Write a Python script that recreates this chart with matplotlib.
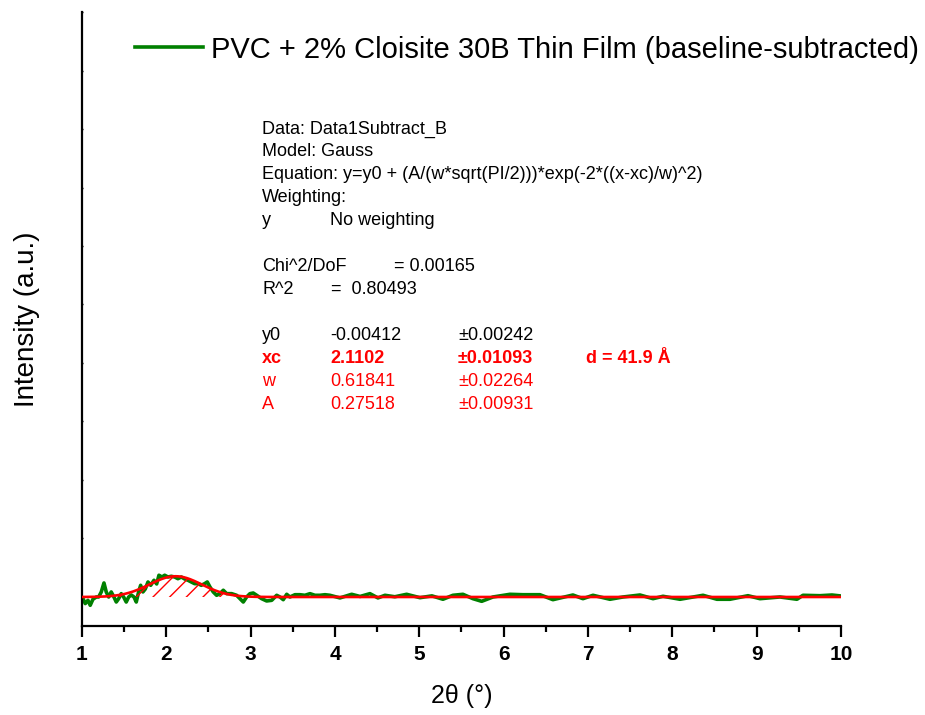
import numpy as np
import matplotlib.pyplot as plt

plt.rcParams['font.family'] = ['Liberation Sans', 'DejaVu Sans']
plt.rcParams['hatch.linewidth'] = 1.0

# measured pattern (2theta in degrees, baseline-subtracted intensity)
two_theta = [1.012, 1.039, 1.071, 1.098, 1.130, 1.170, 1.198, 1.229, 1.261, 1.288,
             1.317, 1.347, 1.379, 1.407, 1.435, 1.466, 1.494, 1.525, 1.554, 1.585,
             1.617, 1.644, 1.672, 1.696, 1.723, 1.751, 1.783, 1.815, 1.854, 1.886,
             1.913, 1.949, 1.981, 2.020, 2.059, 2.099, 2.138, 2.178, 2.218, 2.257,
             2.296, 2.336, 2.376, 2.415, 2.455, 2.486, 2.518, 2.557, 2.597, 2.636,
             2.676, 2.716, 2.775, 2.834, 2.874, 2.913, 2.953, 2.992, 3.031, 3.072,
             3.131, 3.190, 3.250, 3.309, 3.348, 3.387, 3.428, 3.466, 3.526, 3.585,
             3.644, 3.704, 3.763, 3.822, 3.882, 3.941, 4.059, 4.198, 4.298, 4.415,
             4.510, 4.593, 4.710, 4.850, 5.008, 5.150, 5.281, 5.399, 5.518, 5.637,
             5.740, 5.874, 6.075, 6.229, 6.431, 6.585, 6.822, 6.941, 7.060, 7.261,
             7.416, 7.617, 7.772, 7.890, 8.092, 8.365, 8.530, 8.684, 8.898, 9.040,
             9.277, 9.479, 9.550, 9.752, 9.894, 10.0]
intensity = [-0.031, -0.117, -0.061, -0.146, -0.043, -0.004, -0.004, 0.082, 0.236, 0.082,
             -0.004, 0.082, -0.004, -0.090, -0.033, 0.053, -0.004, -0.090, -0.004, 0.030,
             -0.004, -0.090, 0.082, 0.196, 0.082, 0.133, 0.253, 0.196, 0.282, 0.219,
             0.368, 0.338, 0.368, 0.338, 0.350, 0.338, 0.309, 0.338, 0.304, 0.282,
             0.253, 0.224, 0.224, 0.196, 0.224, 0.253, 0.167, 0.082, 0.025, 0.053,
             0.111, 0.053, 0.053, 0.025, -0.033, -0.090, -0.004, 0.053, 0.064, 0.025,
             -0.033, -0.072, -0.061, 0.025, -0.004, -0.050, 0.042, -0.004, 0.035, 0.035,
             0.025, 0.053, 0.025, 0.025, 0.035, 0.025, -0.020, 0.042, 0.005, 0.053,
             -0.020, 0.025, 0.000, 0.042, -0.016, 0.015, -0.043, 0.025, 0.042, -0.033,
             -0.078, -0.004, 0.042, 0.035, 0.035, -0.050, 0.030, -0.033, 0.025, -0.043,
             -0.004, 0.030, -0.033, 0.008, -0.043, 0.025, -0.043, -0.043, 0.018, -0.033,
             -0.004, -0.043, 0.025, 0.018, 0.030, 0.013]

# Gauss fit parameters (from the fit report)
y0 = -0.00412
xc = 2.1102
w = 0.61841
A = 0.27518

x_fit = np.linspace(1, 10, 900)
y_fit = y0 + (A / (w * np.sqrt(np.pi / 2))) * np.exp(-2 * ((x_fit - xc) / w) ** 2)

fig = plt.figure(figsize=(9.25, 7.15), dpi=100)
ax = fig.add_axes([0.0886, 0.1245, 0.8205, 0.8585])

ax.plot(two_theta, intensity, color='#008000', lw=2.6, zorder=2,
        label='PVC + 2% Cloisite 30B Thin Film (baseline-subtracted)')
ax.fill_between(x_fit, y_fit, y0, facecolor='none', edgecolor='red',
                hatch='//', linewidth=0, zorder=3)
ax.plot(x_fit, y_fit, color='red', lw=1.9, zorder=4)

ax.set_xlim(1, 10)
ax.set_ylim(-0.5, 10)
ax.set_xticks(np.arange(1, 11))
ax.set_xticks(np.arange(1.5, 10, 1), minor=True)
ax.set_yticks(np.arange(0, 11))
ax.set_yticklabels([])

for s in ['top', 'right']:
    ax.spines[s].set_visible(False)
for s in ['left', 'bottom']:
    ax.spines[s].set_linewidth(1.6)

ax.tick_params(axis='x', which='major', direction='out', length=8, width=1.6,
               labelsize=15, pad=6)
ax.tick_params(axis='x', which='minor', direction='out', length=4, width=1.6)
ax.tick_params(axis='y', which='major', direction='inout', length=2, width=1)
for lbl in ax.get_xticklabels():
    lbl.set_fontweight('bold')

ax.set_xlabel('2θ (°)', fontsize=18, labelpad=14)
ax.set_ylabel('Intensity (a.u.)', fontsize=20, labelpad=26)

ax.legend(loc='upper right', bbox_to_anchor=(1.13, 0.995), frameon=False,
          fontsize=21, handlelength=2.3, handletextpad=0.3, borderaxespad=0.3)

# fit report
fs = 13
lines = ['Data: Data1Subtract_B', 'Model: Gauss',
         'Equation: y=y0 + (A/(w*sqrt(PI/2)))*exp(-2*((x-xc)/w)^2)',
         'Weighting:']
yy = 129
dy = 22.8
tx = lambda px: px / 925
ty = lambda py: 1 - py / 715
for i, t in enumerate(lines):
    fig.text(tx(262), ty(yy + i * dy), t, fontsize=fs, va='center')
fig.text(tx(262), ty(yy + 4 * dy), 'y', fontsize=fs, va='center')
fig.text(tx(330), ty(yy + 4 * dy), 'No weighting', fontsize=fs, va='center')
fig.text(tx(262), ty(267), 'Chi^2/DoF', fontsize=fs, va='center')
fig.text(tx(394), ty(267), '= 0.00165', fontsize=fs, va='center')
fig.text(tx(262), ty(290), 'R^2', fontsize=fs, va='center')
fig.text(tx(331), ty(290), '=  0.80493', fontsize=fs, va='center')

params = [('y0', '-0.00412', '±0.00242', 'black', 'normal'),
          ('xc', '2.1102', '±0.01093', 'red', 'bold'),
          ('w', '0.61841', '±0.02264', 'red', 'normal'),
          ('A', '0.27518', '±0.00931', 'red', 'normal')]
for i, (n, v, e, c, fw) in enumerate(params):
    py = 336 + i * dy
    fig.text(tx(262), ty(py), n, fontsize=fs, va='center', color=c, fontweight=fw)
    fig.text(tx(330), ty(py), v, fontsize=fs, va='center', color=c, fontweight=fw)
    fig.text(tx(458), ty(py), e, fontsize=fs, va='center', color=c, fontweight=fw)
fig.text(tx(586), ty(336 + dy), 'd = 41.9 Å', fontsize=fs, va='center',
         color='red', fontweight='bold')

fig.savefig('out.png', dpi=100)
